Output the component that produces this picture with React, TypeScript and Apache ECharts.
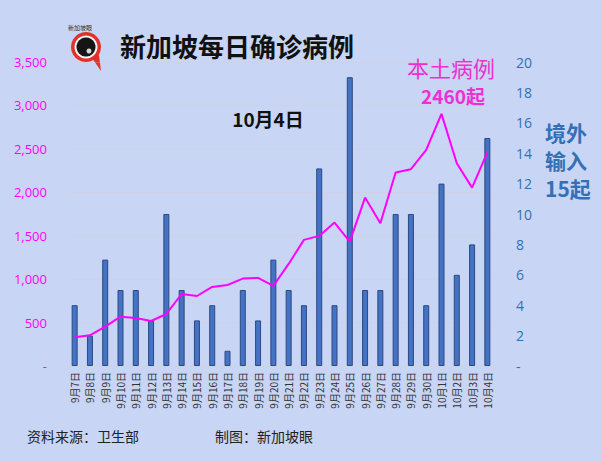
import React, { useEffect, useRef } from "react";
import * as echarts from "echarts";

const categories = [
  "9月7日", "9月8日", "9月9日", "9月10日", "9月11日", "9月12日", "9月13日",
  "9月14日", "9月15日", "9月16日", "9月17日", "9月18日", "9月19日", "9月20日",
  "9月21日", "9月22日", "9月23日", "9月24日", "9月25日", "9月26日", "9月27日",
  "9月28日", "9月29日", "9月30日", "10月1日", "10月2日", "10月3日", "10月4日",
];
const importedCases = [4, 2, 7, 5, 5, 3, 10, 5, 3, 4, 1, 5, 3, 7, 5, 4, 13, 4, 19, 5, 5, 10, 10, 4, 12, 6, 8, 15];
const localCases = [330, 353, 453, 568, 553, 518, 599, 829, 806, 910, 933, 1006, 1014, 922, 1175, 1452, 1498, 1651, 1432, 1939, 1644, 2227, 2266, 2488, 2903, 2335, 2054, 2460];

const TITLE = "新加坡每日确诊病例";
const DATE_LABEL = "10月4日";
const LOCAL_LABEL = "本土病例";
const LOCAL_TOTAL = "2460起";
const IMPORT_LABEL = "境外\n输入\n15起";
const SOURCE = "资料来源：卫生部";
const MAKER = "制图：新加坡眼";

const MAGENTA = "#FF00FF";
const BLUE_TEXT = "#3370B5";
const FONT = "'Noto Sans CJK SC', 'Noto Sans', sans-serif";

export default function App() {
  const ref = useRef<HTMLDivElement>(null);
  useEffect(() => {
    document.body.style.margin = "0";
    const chart = echarts.init(ref.current!, null, { renderer: "svg" });
    chart.setOption({
      animation: false,
      backgroundColor: "#c8d5f4",
      textStyle: { fontFamily: FONT },
      grid: { left: 67, right: 106, top: 62, bottom: 96 },
      xAxis: {
        type: "category",
        data: categories,
        axisLine: { show: false },
        axisTick: { show: false },
        axisLabel: {
          rotate: 90,
          fontSize: 10,
          color: "#333",
          margin: 6,
          interval: 0,
          fontFamily: FONT,
        },
      },
      yAxis: [
        {
          type: "value",
          min: 0,
          max: 3500,
          interval: 500,
          axisLine: { show: false },
          axisTick: { show: false },
          splitLine: { lineStyle: { color: "rgba(225,205,200,0.3)", width: 1 } },
          axisLabel: {
            color: MAGENTA,
            fontSize: 13,
            margin: 20,
            fontFamily: "'Open Sans', sans-serif",
            formatter: (v: number) => (v === 0 ? "-" : v.toLocaleString("en-US")),
          },
        },
        {
          type: "value",
          min: 0,
          max: 20,
          interval: 2,
          position: "right",
          axisLine: { show: false },
          axisTick: { show: false },
          splitLine: { show: false },
          axisLabel: {
            color: BLUE_TEXT,
            fontSize: 14,
            margin: 21,
            fontFamily: "'Open Sans', sans-serif",
            formatter: (v: number) => (v === 0 ? "-" : String(v)),
          },
        },
      ],
      series: [
        {
          type: "bar",
          yAxisIndex: 1,
          data: importedCases,
          barWidth: 6,
          itemStyle: { color: "#4472C4", borderColor: "#2c4a80", borderWidth: 1 },
        },
        {
          type: "line",
          yAxisIndex: 0,
          data: localCases,
          showSymbol: false,
          symbol: "none",
          lineStyle: { color: MAGENTA, width: 2 },
        },
      ],
      graphic: [
        { type: "circle", shape: { cx: 86, cy: 47, r: 15 }, style: { fill: "#e3302a" } },
        {
          type: "polygon",
          shape: { points: [[92, 58], [101, 71], [99, 55]] },
          style: { fill: "#e3302a" },
        },
        { type: "circle", shape: { cx: 86, cy: 47, r: 11.5 }, style: { fill: "#f4f4f4" } },
        { type: "circle", shape: { cx: 86, cy: 47, r: 9.5 }, style: { fill: "#151515" } },
        { type: "circle", shape: { cx: 89, cy: 51, r: 2.5 }, style: { fill: "#d8d8d8" } },
        {
          type: "text",
          x: 80,
          y: 27,
          style: { text: "新加坡眼", fontSize: 6, fill: "#333", align: "center", verticalAlign: "middle", fontFamily: FONT },
        },
        {
          type: "text",
          x: 120,
          y: 45,
          style: { text: TITLE, fontSize: 26, fill: "#111", verticalAlign: "middle", fontFamily: FONT, fontWeight: "bold" },
        },
        {
          type: "text",
          x: 268,
          y: 118,
          style: { text: DATE_LABEL, fontSize: 19, fill: "#111", align: "center", verticalAlign: "middle", fontFamily: FONT, fontWeight: "bold" },
        },
        {
          type: "text",
          x: 451,
          y: 67,
          style: { text: LOCAL_LABEL, fontSize: 22, fill: "#EE2FD6", align: "center", verticalAlign: "middle", fontFamily: FONT },
        },
        {
          type: "text",
          x: 453,
          y: 95,
          style: { text: LOCAL_TOTAL, fontSize: 19, fill: "#EE2FD6", align: "center", verticalAlign: "middle", fontFamily: FONT, fontWeight: "bold" },
        },
        {
          type: "text",
          x: 545,
          y: 118,
          style: { text: IMPORT_LABEL, fontSize: 21, lineHeight: 28, fill: BLUE_TEXT, fontFamily: FONT, fontWeight: "bold" },
        },
        {
          type: "text",
          x: 27,
          y: 436,
          style: { text: SOURCE, fontSize: 14, fill: "#222", verticalAlign: "middle", fontFamily: FONT },
        },
        {
          type: "text",
          x: 215,
          y: 436,
          style: { text: MAKER, fontSize: 14, fill: "#222", verticalAlign: "middle", fontFamily: FONT },
        },
      ],
    });
    return () => chart.dispose();
  }, []);
  return <div ref={ref} style={{ width: 601, height: 462 }} />;
}
